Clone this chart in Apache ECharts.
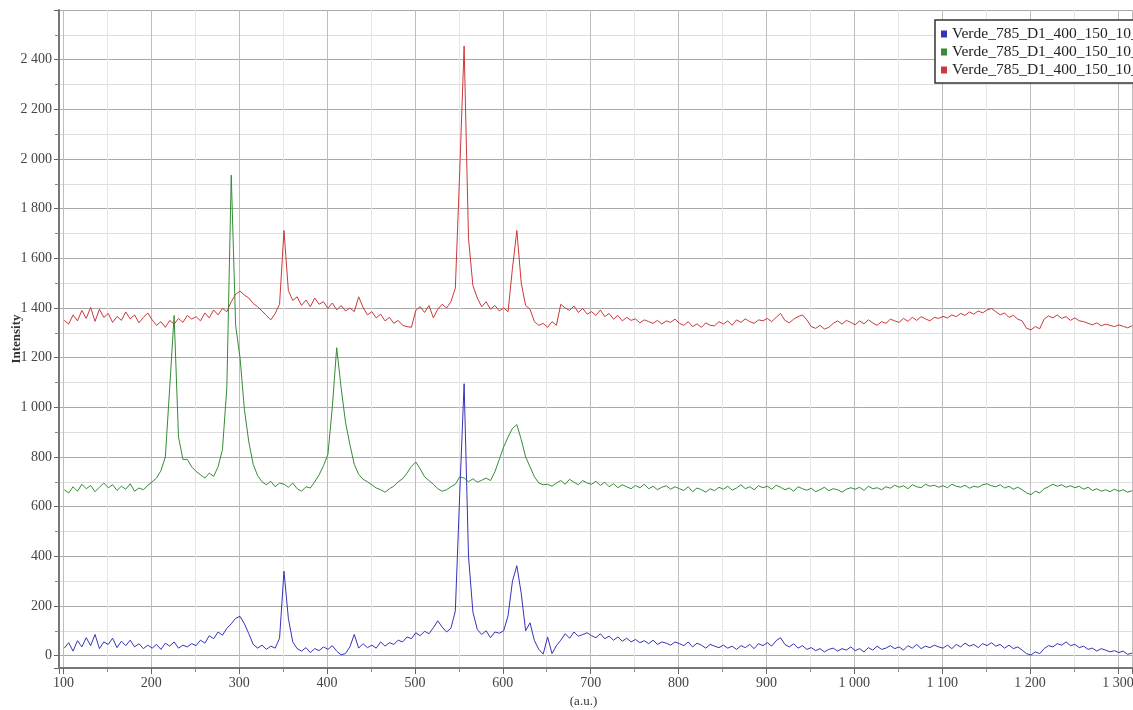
<!DOCTYPE html>
<html>
<head>
<meta charset="utf-8">
<title>Verde_785_D1_400_150</title>
<script src="https://cdn.jsdelivr.net/npm/echarts@6/dist/echarts.min.js"></script>
<style>
html, body { margin: 0; padding: 0; background: #fff; }
#spectra { width: 1133px; height: 710px; }
</style>
</head>
<body>
<div id="spectra"></div>
<script>
// raman shift sampling: first point and step (a.u.)
var shiftStart = 101;
var shiftStep = 5;

var seriesNames = [
	"Verde_785_D1_400_150_10_1",
	"Verde_785_D1_400_150_10_2",
	"Verde_785_D1_400_150_10_3"
];

// intensities, one value every 5 a.u. from 101 to 1316
var blueIntensity = [
	30, 52, 18, 60, 35, 72, 40, 85, 28, 55,
	45, 70, 32, 58, 40, 62, 35, 48, 28, 42,
	30, 45, 25, 50, 38, 55, 30, 42, 35, 48,
	40, 62, 50, 80, 68, 95, 82, 110, 128, 150,
	158, 128, 88, 45, 30, 42, 25, 38, 30, 70,
	340, 150, 55, 28, 18, 32, 12, 28, 20, 35,
	25, 40, 18, 3, 8, 35, 85, 30, 48, 32,
	42, 30, 55, 38, 52, 45, 62, 55, 75, 68,
	92, 80, 98, 88, 112, 140, 115, 95, 110, 180,
	650, 1095, 400, 175, 105, 85, 100, 72, 95, 90,
	100, 160, 300, 362, 250, 100, 132, 60, 25, 6,
	75, 8, 40, 62, 88, 70, 95, 78, 85, 92,
	80, 72, 88, 68, 78, 62, 75, 58, 70, 55,
	65, 52, 60, 48, 62, 45, 55, 50, 42, 55,
	48, 40, 55, 35, 50, 42, 30, 45, 38, 32,
	42, 30, 38, 25, 40, 32, 45, 28, 48, 40,
	52, 38, 60, 72, 45, 35, 48, 30, 40, 25,
	32, 20, 28, 15, 25, 30, 18, 28, 22, 35,
	20, 28, 15, 32, 22, 38, 25, 30, 40, 28,
	35, 22, 40, 30, 45, 28, 38, 32, 42, 35,
	30, 42, 28, 45, 35, 50, 38, 45, 32, 48,
	40, 52, 38, 45, 30, 42, 28, 35, 22, 8,
	2, 15, 8, 28, 40, 35, 48, 42, 55, 40,
	45, 32, 38, 25, 30, 18, 28, 22, 15, 20,
	12, 18, 5, 10
];

var greenIntensity = [
	668, 655, 680, 662, 690, 672, 685, 660, 678, 695,
	676, 688, 665, 682, 670, 692, 662, 675, 668, 685,
	700, 715, 745, 800, 1080, 1370, 880, 790, 790, 760,
	742, 728, 715, 735, 722, 760, 830, 1080, 1935, 1330,
	1200, 990, 860, 770, 725, 700, 688, 702, 680, 695,
	690, 678, 695, 672, 662, 680, 675, 700, 728, 765,
	810, 1000, 1240, 1080, 940, 850, 770, 730, 710, 700,
	688, 675, 668, 658, 672, 682, 700, 712, 735, 762,
	780, 752, 720, 705, 690, 672, 662, 668, 680, 690,
	720, 715, 700, 712, 698, 706, 715, 705, 740, 790,
	840, 880, 915, 930, 870, 800, 760, 720, 695, 688,
	690, 682, 695, 705, 690, 710, 698, 688, 705, 695,
	690, 702, 685, 698, 680, 692, 676, 688, 680, 672,
	685, 676, 690, 672, 682, 668, 678, 684, 670, 680,
	672, 665, 680, 660, 675, 668, 658, 672, 664, 678,
	670, 682, 666, 675, 688, 672, 680, 668, 684, 676,
	682, 670, 686, 678, 668, 675, 662, 680, 672, 666,
	674, 660, 668, 678, 664, 672, 668, 658, 670, 676,
	670, 678, 665, 682, 672, 676, 668, 680, 674, 686,
	678, 684, 672, 688, 680, 676, 690, 682, 686, 678,
	684, 676, 690, 682, 678, 686, 674, 682, 678, 688,
	692, 684, 680, 688, 675, 682, 670, 678, 668, 655,
	648, 662, 655, 672, 680, 690, 682, 688, 678, 684,
	676, 682, 670, 678, 665, 672, 662, 668, 660, 670,
	662, 668, 658, 664
];

var redIntensity = [
	1350, 1335, 1372, 1348, 1390, 1358, 1402, 1346, 1395, 1362,
	1378, 1342, 1366, 1350, 1384, 1356, 1372, 1340, 1362, 1380,
	1352, 1330, 1345, 1322, 1350, 1335, 1358, 1342, 1370, 1355,
	1365, 1348, 1380, 1360, 1392, 1372, 1398, 1385, 1425, 1455,
	1468, 1452, 1440, 1418, 1405, 1388, 1370, 1352, 1378, 1415,
	1712, 1470, 1430, 1445, 1410, 1432, 1405, 1440, 1415, 1425,
	1398, 1420, 1392, 1410, 1388, 1400, 1385, 1445, 1402, 1372,
	1385, 1360, 1375, 1348, 1362, 1338, 1350, 1330, 1325, 1322,
	1390, 1405, 1382, 1410, 1360, 1395, 1415, 1400, 1425, 1480,
	1950, 2455, 1680, 1490, 1440, 1405, 1425, 1395, 1410, 1388,
	1400, 1385, 1560, 1712, 1500, 1410, 1395, 1345, 1330, 1338,
	1322, 1345, 1330, 1415, 1400, 1390, 1408, 1382, 1398, 1375,
	1385, 1370, 1392, 1365, 1378, 1355, 1370, 1348, 1362, 1350,
	1356, 1340, 1352, 1345, 1338, 1350, 1335, 1348, 1342, 1355,
	1338, 1330, 1345, 1325, 1336, 1322, 1340, 1330, 1328, 1345,
	1335, 1348, 1330, 1352, 1342, 1356, 1345, 1338, 1352, 1348,
	1358, 1345, 1362, 1378, 1350, 1340, 1355, 1365, 1372, 1352,
	1325, 1318, 1330, 1315, 1322, 1338, 1348, 1335, 1350, 1342,
	1332, 1348, 1336, 1352, 1340, 1330, 1345, 1338, 1355, 1348,
	1342, 1358, 1346, 1362, 1350, 1365, 1356, 1348, 1362, 1358,
	1366, 1360, 1372, 1365, 1378, 1370, 1384, 1375, 1388, 1380,
	1392, 1398, 1385, 1372, 1380, 1362, 1370, 1355, 1348, 1318,
	1312, 1325, 1316, 1355, 1368, 1360, 1372, 1358, 1365, 1350,
	1360, 1348, 1345, 1338, 1332, 1340, 1328, 1335, 1330, 1325,
	1332, 1326, 1320, 1328
];

var lineColors = ["#3434b8", "#358c35", "#cc3838"];

var serif = '"Liberation Serif", "DejaVu Serif", serif';

// 2400 -> "2 400"
function thousands(v) {
	var s = String(Math.round(v));
	if (Math.abs(v) >= 1000) {
		s = s.slice(0, s.length - 3) + " " + s.slice(s.length - 3);
	}
	return s;
}

function toPairs(vals) {
	var out = [];
	for (var i = 0; i < vals.length; i++) {
		out.push([shiftStart + i * shiftStep, vals[i]]);
	}
	return out;
}

var allValues = [blueIntensity, greenIntensity, redIntensity];
var series = [];
for (var s = 0; s < allValues.length; s++) {
	series.push({
		name: seriesNames[s],
		type: "line",
		showSymbol: false,
		symbol: "none",
		lineStyle: { color: lineColors[s], width: 1 },
		itemStyle: { color: lineColors[s] },
		data: toPairs(allValues[s])
	});
}

var myChart = echarts.init(document.getElementById("spectra"), null, { renderer: "canvas" });
var option = {
	animation: false,
	backgroundColor: "#ffffff",
	grid: { left: 59, top: 10, right: 1, bottom: 42, containLabel: false, outerBoundsMode: "none" },
	legend: {
		orient: "vertical",
		left: 935,
		top: 20,
		data: seriesNames,
		icon: "rect",
		itemWidth: 6,
		itemHeight: 7,
		itemGap: 2,
		padding: [6, 40, 5, 6],
		backgroundColor: "#ffffff",
		borderColor: "#333333",
		borderWidth: 1.5,
		borderRadius: 0,
		textStyle: { fontFamily: serif, fontSize: 15.5, color: "#222" }
	},
	xAxis: {
		type: "value",
		min: 95,
		max: 1316,
		minInterval: 100,
		maxInterval: 100,
		name: "(a.u.)",
		nameLocation: "middle",
		nameGap: 27,
		nameMoveOverlap: false,
		nameTextStyle: { fontFamily: serif, fontSize: 13, color: "#333", padding: [0, 24, 0, 0] },
		axisLine: { show: true, onZero: false, lineStyle: { color: "#777", width: 2 } },
		axisTick: { show: true, length: 6, lineStyle: { color: "#666" } },
		minorTick: { show: true, splitNumber: 2, length: 4, lineStyle: { color: "#888" } },
		axisLabel: {
			margin: 8,
			fontFamily: serif,
			fontSize: 14,
			color: "#444",
			formatter: function(v) { return v % 100 === 0 ? thousands(v) : ""; }
		},
		splitLine: { show: true, lineStyle: { color: "#bdbdbd", width: 1 } },
		minorSplitLine: { show: true, lineStyle: { color: "#e6e6e6", width: 1 } }
	},
	yAxis: {
		type: "value",
		min: -50,
		max: 2600,
		minInterval: 200,
		maxInterval: 200,
		name: "Intensity",
		nameLocation: "middle",
		nameGap: 36,
		nameMoveOverlap: false,
		nameTextStyle: { fontFamily: serif, fontSize: 13, fontWeight: "bold", color: "#333" },
		axisLine: { show: true, onZero: false, lineStyle: { color: "#777", width: 2 } },
		axisTick: { show: true, length: 5, lineStyle: { color: "#666" } },
		minorTick: { show: true, splitNumber: 2, length: 4, lineStyle: { color: "#888" } },
		axisLabel: {
			margin: 7,
			fontFamily: serif,
			fontSize: 14,
			color: "#444",
			// top of the frame carries no label
			formatter: function(v) { return (v % 200 === 0 && v <= 2400) ? thousands(v) : ""; }
		},
		splitLine: { show: true, lineStyle: { color: "#a8a8a8", width: 1 } },
		minorSplitLine: { show: true, lineStyle: { color: "#dedede", width: 1 } }
	},
	series: series
};
myChart.setOption(option);
</script>
</body>
</html>
